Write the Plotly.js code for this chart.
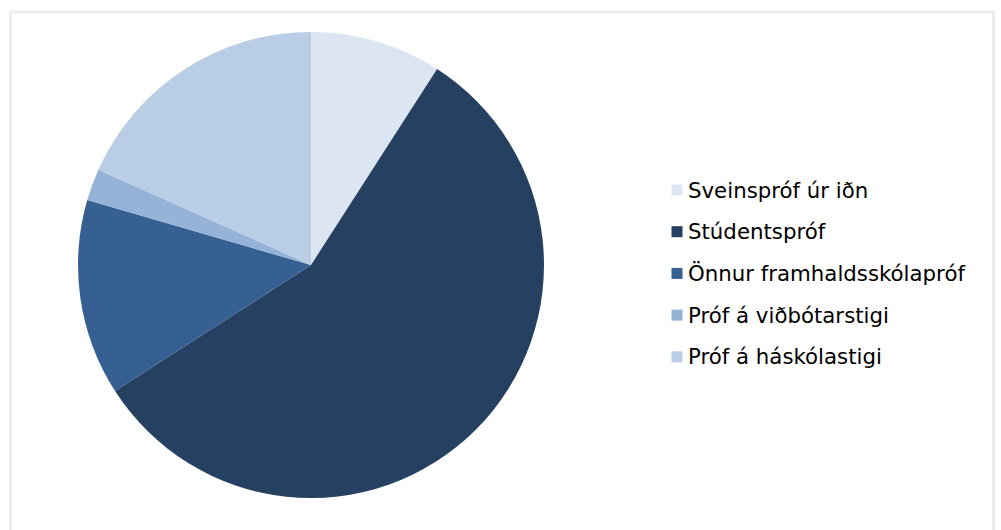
<!DOCTYPE html>
<html>
<head>
<meta charset="utf-8">
<script src="https://cdn.plot.ly/plotly-3.0.1.min.js"></script>
<style>
  html, body { margin: 0; padding: 0; background: #ffffff; }
  #chart { width: 1001px; height: 530px; }
</style>
</head>
<body>
<div id="chart"></div>
<script>
// Data
const labels = ["Sveinspróf úr iðn", "Stúdentspróf", "Önnur framhaldsskólapróf", "Próf á viðbótarstigi", "Próf á háskólastigi"];
const values = [9.1, 56.8, 13.6, 2.2, 18.3];
const colors = ["#dce6f2", "#254061", "#376092", "#95b3d7", "#b9cde5"];

const W = 1001, H = 530;
const px = x => x / W;
const py = y => (H - y) / H;

const trace = {
  type: "pie",
  labels: labels,
  values: values,
  sort: false,
  direction: "clockwise",
  rotation: 0,
  textinfo: "none",
  hoverinfo: "label+percent",
  marker: { colors: colors, line: { width: 0 } },
  domain: { x: [px(78), px(544)], y: [py(498), py(32)] },
  showlegend: false
};

// Custom legend built from the label/colour arrays
const shapes = [{
  type: "rect", xref: "paper", yref: "paper",
  x0: px(10.5), x1: px(993.5), y0: py(545), y1: py(12),
  line: { color: "#ececec", width: 3 }, fillcolor: "rgba(0,0,0,0)", layer: "below"
}];
const annotations = [];
const legTop = 190, legStep = 41.7;
labels.forEach((lab, i) => {
  const yc = legTop + i * legStep;
  shapes.push({
    type: "rect", xref: "paper", yref: "paper",
    x0: px(671.5), x1: px(682.5), y0: py(yc + 5.5), y1: py(yc - 5.5),
    fillcolor: colors[i], line: { width: 0 }
  });
  annotations.push({
    xref: "paper", yref: "paper", x: px(686), y: py(yc),
    xanchor: "left", yanchor: "middle", showarrow: false,
    text: lab, font: { family: "DejaVu Sans, Verdana, sans-serif", size: 21.3, color: "#000000" }
  });
});

const layout = {
  width: W, height: H,
  margin: { l: 0, r: 0, t: 0, b: 0 },
  paper_bgcolor: "#ffffff",
  showlegend: false,
  shapes: shapes,
  annotations: annotations,
  font: { family: "DejaVu Sans, Verdana, sans-serif" }
};

Plotly.newPlot("chart", [trace], layout, { displayModeBar: false, staticPlot: true });
</script>
</body>
</html>
